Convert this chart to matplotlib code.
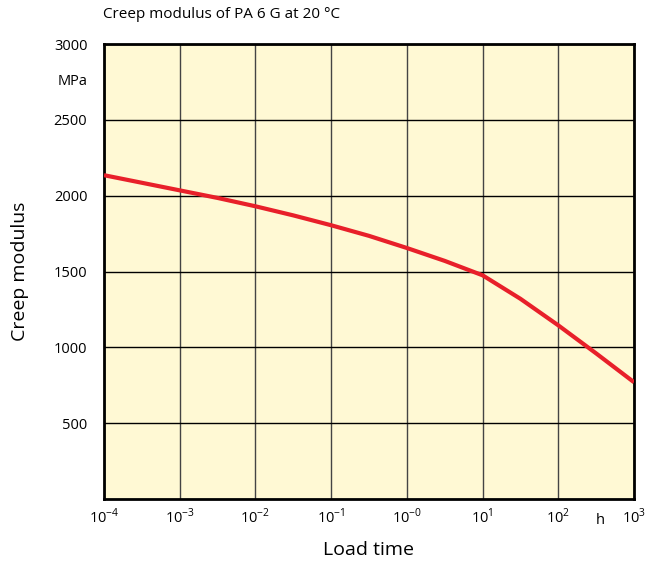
import numpy as np
import matplotlib
matplotlib.use("Agg")
import matplotlib.pyplot as plt

# values (load time in h, modulus in MPa)
log_time = [-4, -3.5, -3, -2.5, -2, -1.5, -1, -0.5, 0, 0.5, 1, 1.5, 2, 2.5, 3]
modulus = [2135, 2085, 2035, 1985, 1930, 1870, 1805, 1735, 1655, 1570, 1475, 1320, 1145, 960, 770]
y_ticks = [500, 1000, 1500, 2000, 2500, 3000]
x_exps = [-4, -3, -2, -1, 0, 1, 2, 3]
x_labels = ["$10^{-4}$", "$10^{-3}$", "$10^{-2}$", "$10^{-1}$", "$10^{-0}$", "$10^{1}$", "$10^{2}$", "$10^{3}$"]

plt.rcParams['font.family'] = ['Open Sans', 'DejaVu Sans']
plt.rcParams['mathtext.fontset'] = 'custom'
plt.rcParams['mathtext.rm'] = 'Open Sans'

fig = plt.figure(figsize=(6.48, 5.62), dpi=100)
ax = fig.add_axes([104/648, 63/562, 530/648, 455/562])
ax.set_facecolor('#FFF9D4')

t = 10.0 ** np.array(log_time)
ax.plot(t, modulus, color='#E8202A', lw=3, solid_capstyle='butt', solid_joinstyle='round', zorder=3)

ax.set_xscale('log')
ax.set_xlim(1e-4, 1e3)
ax.set_ylim(0, 3000)
ax.set_xticks([10.0 ** e for e in x_exps])
ax.set_xticklabels(x_labels, fontsize=10.5)
ax.xaxis.set_minor_locator(matplotlib.ticker.NullLocator())
ax.set_yticks(y_ticks)
ax.set_yticklabels([str(v) for v in y_ticks], fontsize=10.5)
ax.tick_params(axis='x', length=0, pad=6)
ax.tick_params(axis='y', length=0, pad=12)

ax.grid(True, color='black', lw=1.0)
ax.grid(True, axis='x', color='#444444', lw=1.0)
for s in ax.spines.values():
    s.set_linewidth(2)
    s.set_color('black')

ax.text(-0.03, 2750, "MPa", transform=ax.get_yaxis_transform(), ha='right', va='center', fontsize=10.5)
ax.text(10 ** 2.55, -95, "h", ha='center', va='top', fontsize=10.5)

ax.set_xlabel("Load time", fontsize=14, labelpad=10)
ax.set_ylabel("Creep modulus", fontsize=14, labelpad=18)
fig.text(103/648, 1 - 15/562, "Creep modulus of PA 6 G at 20 °C", ha='left', va='center', fontsize=11)

fig.savefig("out.png", dpi=100)
